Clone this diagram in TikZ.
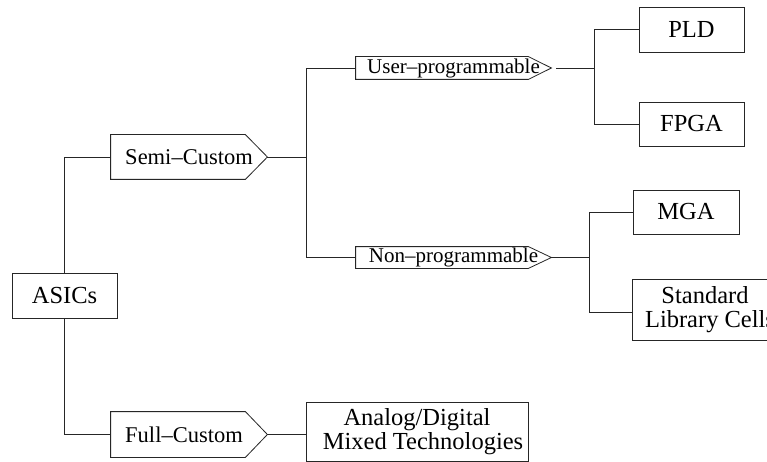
\documentclass[tikz,border=0pt]{standalone}
\usepackage{fontspec}
\setmainfont{Liberation Serif}
\begin{document}
\begin{tikzpicture}[x=1pt,y=-1pt,
    line width=0.8pt, draw=black!85,
    box/.style={draw, inner sep=0pt, align=center,
      font=\fontsize{24.5}{24}\selectfont},
    pentbig/.style={inner sep=0pt, font=\fontsize{22.5}{24}\selectfont},
    pentsmall/.style={inner sep=0pt, font=\fontsize{21}{22}\selectfont}]
  \clip (0,0) rectangle (767,462);
  \fill[white] (0,0) rectangle (767,462);

  % root
  \node[box, minimum width=105pt, minimum height=45pt] (asics) at (64.5,295.5) {ASICs};

  % first-level branches (arrow-shaped labels)
  \node[pentbig, minimum width=156pt, minimum height=44pt] (semi) at (189,157) {Semi–Custom};
  \node[pentbig, minimum width=156pt, minimum height=45pt] (full) at (189,434.5) {Full–Custom\hspace*{10pt}};

  % second-level branches
  \node[pentsmall, minimum width=195pt, minimum height=22pt] (user) at (453.5,68) {User–programmable};
  \node[pentsmall, minimum width=195pt, minimum height=21pt] (non) at (453.5,257.5) {Non–programmable};

  % leaves
  \node[box, minimum width=105pt, minimum height=45pt] (pld) at (691.5,29.5) {PLD};
  \node[box, minimum width=105pt, minimum height=44pt] (fpga) at (691.5,124) {FPGA};
  \node[box, minimum width=106pt, minimum height=44pt] (mga) at (686,212) {MGA};
  \node[box, minimum width=146pt, minimum height=61pt] (std) at (705,309.5) {Standard\\\hspace*{10pt}Library Cells};
  \node[box, minimum width=222pt, minimum height=59pt] (analog) at (417,431.5) {Analog/Digital\\\hspace*{12pt}Mixed Technologies};

  % outlines of the arrow-shaped labels
  \foreach \n/\t in {semi/22, full/22, user/23, non/23}{
    \draw (\n.north west) -- ([xshift=-\t pt]\n.north east) -- (\n.east)
      -- ([xshift=-\t pt]\n.south east) -- (\n.south west) -- cycle;
  }

  % connectors
  \draw (asics.north) |- (semi.west);
  \draw (asics.south) |- (full.west);

  \draw (semi.east) -- ++(39,0) coordinate (j1);
  \draw (j1) |- (user.west);
  \draw (j1) |- (non.west);

  \draw ([xshift=5pt]user.east) -- ++(38,0) coordinate (j2);
  \draw (j2) |- (pld.west);
  \draw (j2) |- (fpga.west);

  \draw (non.east) -- ++(38,0) coordinate (j3);
  \draw (j3) |- (mga.west);
  \draw (j3) |- ([yshift=-3pt]std.west);

  \draw (full.east) -- (full.east -| analog.west);
\end{tikzpicture}
\end{document}
